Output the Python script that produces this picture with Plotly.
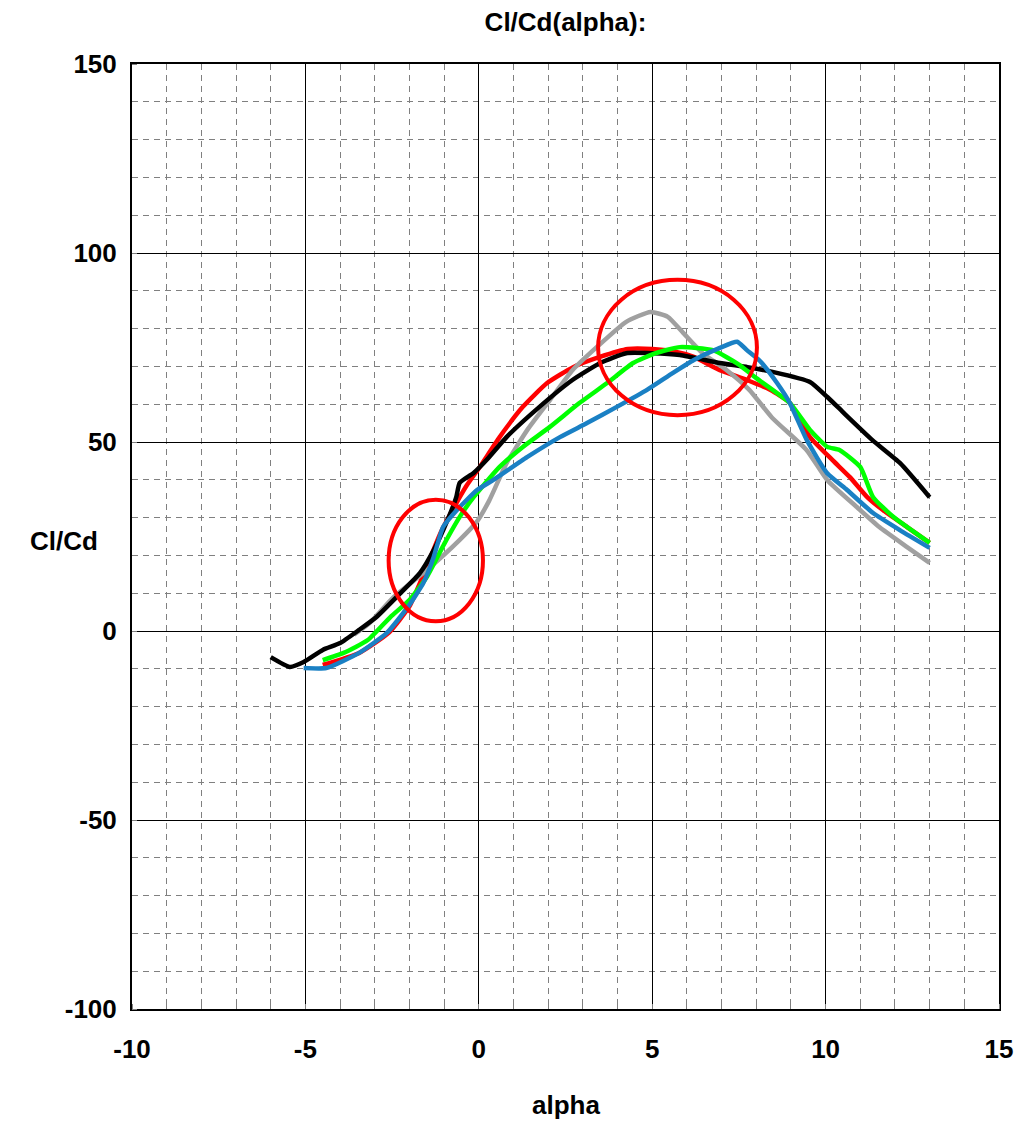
import plotly.graph_objects as go

# ---- data ----
black_x = [-6.0, -5.45, -5.05, -4.5, -4.0, -3.45, -2.95, -2.25, -1.7, -1.3, -0.9, -0.65, -0.55, -0.15, 0.25, 0.8, 1.75, 2.7, 3.5, 4.25, 5.0, 5.8, 6.95, 7.75, 8.5, 9.55, 10.05, 10.5, 11.35, 12.15, 13.0]
black_y = [-6.9, -9.5, -8.2, -5.0, -3.2, 0.3, 3.7, 10.1, 15.3, 21.4, 29.4, 35.4, 39.2, 41.8, 45.5, 51.3, 59.3, 66.4, 70.9, 73.5, 73.5, 73.0, 70.9, 69.8, 68.5, 65.9, 61.9, 57.9, 50.5, 44.4, 35.4]

gray_x = [-3.6, -3.15, -2.45, -1.5, -0.55, -0.05, 0.3, 0.8, 1.4, 2.05, 2.7, 3.4, 4.25, 4.95, 5.45, 5.9, 6.45, 7.15, 7.8, 8.45, 9.45, 10.05, 10.9, 11.55, 12.35, 13.0]
gray_y = [-1.0, 2.1, 9.0, 16.1, 24.1, 29.0, 34.5, 44.4, 53.2, 61.1, 69.0, 75.1, 81.8, 84.4, 83.1, 78.8, 73.5, 69.0, 63.8, 56.5, 47.9, 39.9, 32.8, 27.5, 22.2, 18.0]

red_x = [-4.5, -3.45, -2.6, -2.0, -1.6, -1.1, -0.55, -0.35, 0.03, 0.6, 1.27, 1.97, 2.72, 3.49, 4.3, 5.0, 5.6, 6.2, 6.95, 7.73, 8.4, 8.97, 9.55, 10.2, 10.7, 11.2, 11.65, 12.35, 13.0]
red_y = [-9.0, -5.8, -0.5, 6.5, 14.8, 26.0, 35.4, 38.5, 43.4, 51.3, 59.3, 65.6, 69.8, 72.5, 74.6, 74.6, 74.0, 72.5, 69.0, 66.4, 63.8, 60.3, 51.3, 45.2, 40.7, 35.4, 32.0, 27.5, 23.3]

green_x = [-4.5, -3.9, -3.2, -2.55, -2.0, -1.5, -1.0, -0.55, -0.15, 0.6, 1.27, 2.05, 2.9, 3.7, 4.45, 5.1, 5.8, 6.75, 7.5, 8.0, 8.97, 9.55, 10.05, 10.4, 11.0, 11.37, 11.95, 13.0]
green_y = [-7.7, -5.8, -2.4, 3.7, 8.2, 14.3, 23.0, 30.2, 35.4, 43.4, 48.7, 54.0, 60.3, 65.6, 70.9, 73.5, 75.1, 74.3, 70.5, 66.9, 60.3, 53.2, 48.7, 47.9, 43.4, 35.4, 30.2, 23.3]

blue_x = [-5.05, -4.4, -3.45, -2.65, -2.05, -1.6, -1.3, -1.03, -0.63, -0.05, 0.41, 1.39, 2.34, 3.12, 3.98, 4.85, 5.6, 6.2, 6.95, 7.45, 7.73, 8.1, 8.6, 8.97, 9.46, 10.04, 10.62, 11.37, 12.14, 13.0]
blue_y = [-9.8, -9.8, -5.8, -0.5, 6.3, 12.7, 19.6, 27.5, 32.0, 37.3, 39.9, 46.0, 51.3, 55.0, 59.3, 63.8, 68.3, 71.7, 74.9, 76.5, 74.3, 71.5, 65.6, 60.3, 50.5, 41.8, 37.3, 31.2, 26.7, 22.0]

# highlighted regions (ellipses), data coordinates
ellipse_x0 = [-2.6, 3.44]
ellipse_x1 = [0.12, 8.02]
ellipse_y0 = [2.6, 57.1]
ellipse_y1 = [34.7, 92.9]

x_ticks = [-10, -5, 0, 5, 10, 15]
x_tick_labels = ["-10", "-5", "0", "5", "10", "15"]
y_ticks = [-100, -50, 0, 50, 100, 150]
y_tick_labels = ["-100", "-50", "0", "50", "100", "150"]

FONT = "Liberation Sans, Arial, sans-serif"

fig = go.Figure()
series = [
    (red_x, red_y, "#FF0000"),
    (gray_x, gray_y, "#A0A0A0"),
    (black_x, black_y, "#000000"),
    (green_x, green_y, "#00FF00"),
    (blue_x, blue_y, "#1A80C4"),
]
for xs, ys, c in series:
    fig.add_trace(go.Scatter(x=xs, y=ys, mode="lines",
                             line=dict(color=c, width=4.5, shape="spline", smoothing=0.5),
                             showlegend=False, hoverinfo="skip"))

for x0, x1, y0, y1 in zip(ellipse_x0, ellipse_x1, ellipse_y0, ellipse_y1):
    fig.add_shape(type="circle", xref="x", yref="y", x0=x0, x1=x1, y0=y0, y1=y1,
                  line=dict(color="#FF0000", width=4), layer="above")

axis_common = dict(
    showline=True, linecolor="black", linewidth=2, mirror=True,
    showgrid=True, gridcolor="black", gridwidth=1,
    zeroline=False, ticks="",
    tickfont=dict(family=FONT, size=26, color="black", weight="bold"),
)

fig.update_xaxes(range=[-10, 15], tickvals=x_ticks, ticktext=x_tick_labels,
                 ticklabelstandoff=16,
                 minor=dict(dtick=1, showgrid=True, gridcolor="#808080",
                            griddash="6px,5px", gridwidth=1,
                            ticks="inside", ticklen=5, tickcolor="#808080"),
                 **axis_common)
fig.update_yaxes(range=[-100, 150], tickvals=y_ticks, ticktext=y_tick_labels,
                 ticklabelstandoff=8,
                 minor=dict(dtick=10, showgrid=True, gridcolor="#808080",
                            griddash="6px,5px", gridwidth=1,
                            ticks="inside", ticklen=5, tickcolor="#808080"),
                 **axis_common)

fig.update_layout(
    width=1034, height=1121,
    margin=dict(l=132, r=35, t=64, b=112),
    plot_bgcolor="white", paper_bgcolor="white",
    title=dict(text="Cl/Cd(alpha):", x=0.5, xref="paper", xanchor="center",
               y=1 - 22 / 1121, yref="container", yanchor="middle",
               font=dict(family=FONT, size=26, color="black", weight="bold")),
    annotations=[
        dict(text="alpha", xref="paper", yref="paper", x=0.5, y=0,
             yshift=-96, showarrow=False, xanchor="center", yanchor="middle",
             font=dict(family=FONT, size=26, color="black", weight="bold")),
        dict(text="Cl/Cd", xref="paper", yref="paper", x=0, y=0.5,
             xshift=-68, yshift=-4, showarrow=False, xanchor="center", yanchor="middle",
             font=dict(family=FONT, size=26, color="black", weight="bold")),
    ],
)

fig.write_html("out.html", config={"displayModeBar": False},
               post_script="document.body.style.margin='0';")
